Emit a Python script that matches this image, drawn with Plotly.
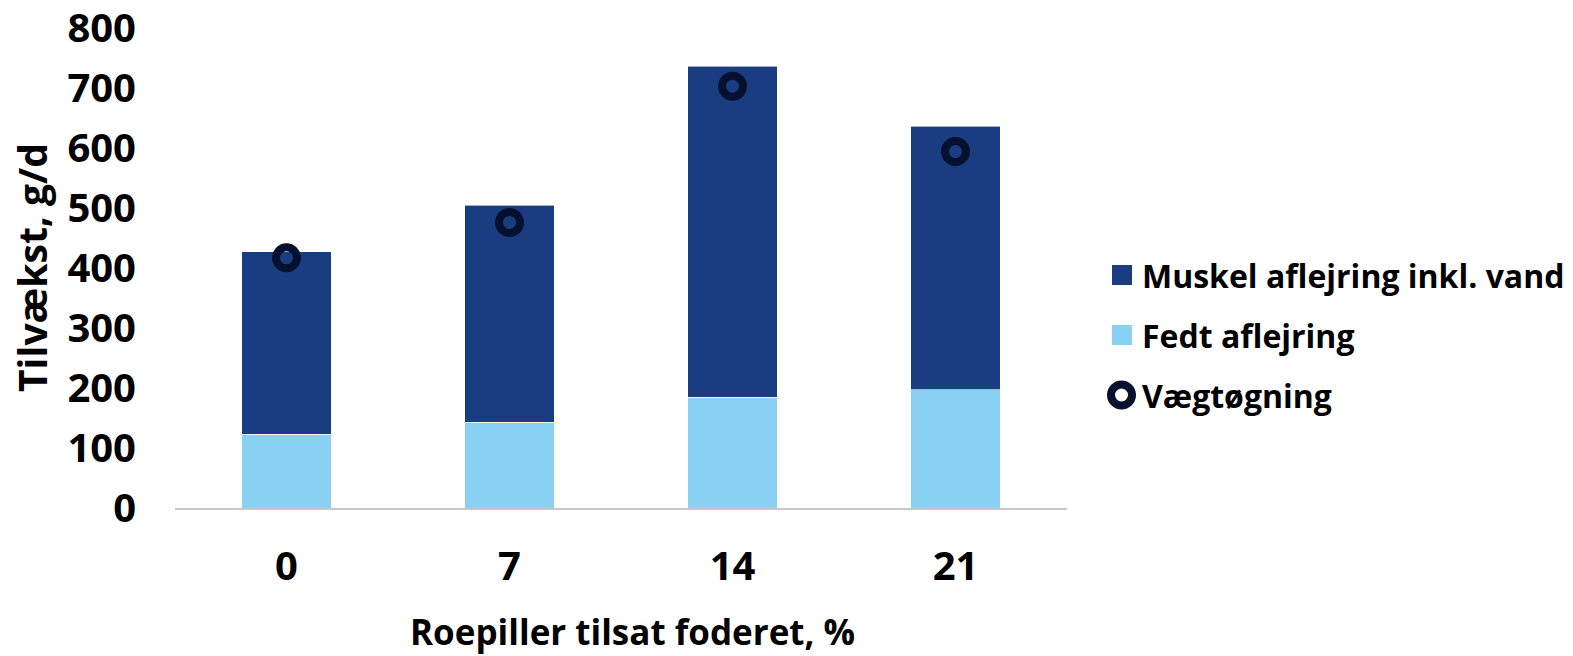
import plotly.graph_objects as go

# Roepiller i foderet (%) og tilvækst (g/d)
categories = ["0", "7", "14", "21"]
fedt_aflejring = [123, 143, 185, 197]
muskel_aflejring = [304, 362, 551, 439]
vaegtoegning = [417, 476, 703, 594]
y_ticks = [0, 100, 200, 300, 400, 500, 600, 700, 800]

DARK = "#1A3D82"
LIGHT = "#89D1F3"
RING = "#06102F"
FONT = "Open Sans"

W, H = 1573, 656
L, R, T, B = 175, 506, 28, 148
pw, ph = W - L - R, H - T - B


def px(x):
    return (x - L) / pw


def py(y):
    return (H - B - y) / ph


fig = go.Figure()
fig.add_trace(go.Bar(
    x=categories, y=fedt_aflejring, name="Fedt aflejring",
    marker=dict(color=LIGHT, line=dict(color="rgba(255,255,255,0.6)", width=1)),
    showlegend=False,
))
fig.add_trace(go.Bar(
    x=categories, y=muskel_aflejring, name="Muskel aflejring inkl. vand",
    marker=dict(color=DARK, line=dict(color="rgba(255,255,255,0.6)", width=1)),
    showlegend=False,
))
fig.add_trace(go.Scatter(
    x=categories, y=vaegtoegning, name="Vægtøgning", mode="markers",
    marker=dict(symbol="circle-open", size=21, color=RING, line=dict(width=8, color=RING)),
    showlegend=False,
))

# Legend drawn as shapes + text
legend_rows = [
    ("Muskel aflejring inkl. vand", "square", DARK, 275),
    ("Fedt aflejring", "square", LIGHT, 335),
    ("Vægtøgning", "ring", RING, 395),
]
shapes = []
annotations = []
for label, kind, color, yc in legend_rows:
    if kind == "square":
        shapes.append(dict(type="rect", xref="paper", yref="paper",
                           x0=px(1112), x1=px(1132), y0=py(yc + 10), y1=py(yc - 10),
                           fillcolor=color, line=dict(width=0)))
    else:
        shapes.append(dict(type="circle", xref="paper", yref="paper",
                           x0=px(1111), x1=px(1132), y0=py(yc + 10.5), y1=py(yc - 10.5),
                           fillcolor="white", line=dict(color=color, width=8)))
    annotations.append(dict(text=label, xref="paper", yref="paper",
                            x=px(1140), y=py(yc), xanchor="left", yanchor="middle",
                            showarrow=False,
                            font=dict(family=FONT, size=32, color="black", weight="bold")))

annotations.append(dict(text="Roepiller tilsat foderet, %", xref="paper", yref="paper",
                        x=px(632), y=py(631), xanchor="center", yanchor="middle",
                        showarrow=False,
                        font=dict(family=FONT, size=35, color="black", weight="bold")))
annotations.append(dict(text="Tilvækst, g/d", xref="paper", yref="paper",
                        x=px(31), y=py(268), xanchor="center", yanchor="middle",
                        textangle=-90, showarrow=False,
                        font=dict(family=FONT, size=39, color="black", weight="bold")))

fig.update_layout(
    width=W, height=H,
    margin=dict(l=L, r=R, t=T, b=B, pad=0),
    barmode="stack", bargap=0.6,
    plot_bgcolor="white", paper_bgcolor="white",
    showlegend=False,
    shapes=shapes, annotations=annotations,
    font=dict(family=FONT, color="black"),
)
fig.update_xaxes(
    automargin=False,
    showline=True, linecolor="#C8C8C8", linewidth=2,
    showgrid=False, zeroline=False, ticks="",
    ticklabelstandoff=22, ticklabeloverflow="allow",
    tickfont=dict(family=FONT, size=40, color="black", weight="bold"),
)
fig.update_yaxes(
    automargin=False,
    range=[0, 800], tickvals=y_ticks,
    showline=False, showgrid=False, zeroline=False, ticks="",
    ticklabelstandoff=38, ticklabeloverflow="allow",
    tickfont=dict(family=FONT, size=40, color="black", weight="bold"),
)

fig.write_html("out.html")
